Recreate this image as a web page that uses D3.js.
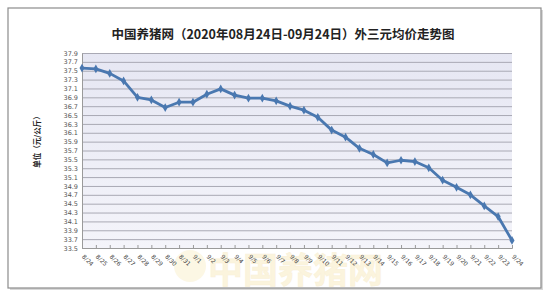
<!DOCTYPE html>
<html>
<head>
<meta charset="utf-8">
<script src="https://cdn.jsdelivr.net/npm/d3@7"></script>
<style>
  body { margin: 0; background: #fff; }
  svg { display: block; font-family: "Noto Sans CJK SC", "DejaVu Sans", sans-serif; }
</style>
</head>
<body>
<div id="chart"></div>
<script>
// dates on the x axis
var dates = ["8/24", "8/25", "8/26", "8/27", "8/28", "8/29", "8/30", "8/31",
    "9/1", "9/2", "9/3", "9/4", "9/5", "9/6", "9/7", "9/8", "9/9", "9/10",
    "9/11", "9/12", "9/13", "9/14", "9/15", "9/16", "9/17", "9/18", "9/19",
    "9/20", "9/21", "9/22", "9/23", "9/24"]
// average price, yuan/kg
var prices = [37.56, 37.54, 37.44, 37.27, 36.90, 36.84, 36.67, 36.79,
    36.79, 36.97, 37.09, 36.95, 36.88, 36.88, 36.82, 36.70, 36.61, 36.45,
    36.16, 36.00, 35.75, 35.61, 35.42, 35.48, 35.45, 35.31, 35.03,
    34.87, 34.70, 34.45, 34.21, 33.67]
var yTicks = [33.5, 33.7, 33.9, 34.1, 34.3, 34.5, 34.7, 34.9, 35.1, 35.3, 35.5,
    35.7, 35.9, 36.1, 36.3, 36.5, 36.7, 36.9, 37.1, 37.3, 37.5, 37.7, 37.9]

var W = 552, H = 294
var margin = { top: 53, right: 40, bottom: 46, left: 82 },
    width = W - margin.left - margin.right,
    height = H - margin.top - margin.bottom

var root = d3.select("#chart").append("svg")
    .attr("width", W)
    .attr("height", H)

var defs = root.append("defs")
var grad = defs.append("linearGradient").attr("id", "bg")
    .attr("x1", 0).attr("y1", 0).attr("x2", 0).attr("y2", 1)
grad.append("stop").attr("offset", "0%").attr("stop-color", "#e6e7f3")
grad.append("stop").attr("offset", "100%").attr("stop-color", "#f4f4fa")

// outer frame with a light shadow
root.append("rect").attr("x", 10).attr("y", 10).attr("width", 533).attr("height", 280)
    .attr("fill", "#d8d8d8")
root.append("rect").attr("x", 8).attr("y", 8).attr("width", 533).attr("height", 280)
    .attr("fill", "#fff").attr("stroke", "#8c8c8c").attr("stroke-width", 1.2)

// faded watermark
var wm = root.append("g").attr("opacity", 0.22)
wm.append("circle").attr("cx", 190).attr("cy", 266).attr("r", 16)
    .attr("fill", "#f3dc8a")
wm.append("text").attr("x", 208).attr("y", 283)
    .attr("font-size", 35).attr("font-weight", "bold")
    .attr("fill", "#f0cf6a")
    .attr("stroke", "#e8c050").attr("stroke-width", 0.6)
    .text("中国养猪网")

root.append("text")
    .attr("x", 283).attr("y", 39)
    .attr("text-anchor", "middle")
    .attr("font-size", 12.5)
    .attr("font-weight", "bold")
    .attr("fill", "#222")
    .text("中国养猪网（2020年08月24日-09月24日）外三元均价走势图")

var svg = root.append("g")
    .attr("transform", "translate(" + margin.left + "," + margin.top + ")")

var x = d3.scalePoint().domain(dates).range([0, width])
var y = d3.scaleLinear().domain([33.5, 37.9]).range([height, 0])

svg.append("rect").attr("width", width).attr("height", height).attr("fill", "url(#bg)")

// horizontal grid
svg.append("g")
    .call(d3.axisLeft(y).tickValues(yTicks).tickSize(-width).tickFormat(""))
    .call(g => g.select(".domain").remove())
    .selectAll("line").attr("stroke", "#a9a9b4").attr("stroke-width", 1)

// y axis labels
var yAxis = svg.append("g")
    .call(d3.axisLeft(y).tickValues(yTicks).tickSize(0).tickPadding(4).tickFormat(d3.format(".1f")))
yAxis.select(".domain").attr("stroke", "#9a9a9a")
yAxis.selectAll("text").attr("font-size", 6.5).attr("fill", "#555")
    .attr("font-family", "DejaVu Sans, sans-serif")

// x axis
var xAxis = svg.append("g")
    .attr("transform", "translate(0," + height + ")")
    .call(d3.axisBottom(x).tickSize(-3).tickPadding(0))
xAxis.select(".domain").attr("stroke", "#9a9a9a")
xAxis.selectAll("line").attr("stroke", "#9a9a9a")
xAxis.selectAll("text")
    .attr("font-size", 6)
    .attr("fill", "#444")
    .attr("font-family", "DejaVu Sans, sans-serif")
    .attr("text-anchor", "start")
    .attr("dy", null)
    .attr("y", 0)
    .attr("transform", "translate(-1,9) rotate(45)")

// y axis title
root.append("text")
    .attr("transform", "translate(40,140) rotate(-90)")
    .attr("text-anchor", "middle")
    .attr("font-size", 7.5)
    .attr("font-weight", "bold")
    .attr("fill", "#222")
    .text("单位（元/公斤）")

var line = d3.line()
    .x(function (d, i) { return x(dates[i]) })
    .y(function (d) { return y(d) })

svg.append("path")
    .datum(prices)
    .attr("fill", "none")
    .attr("stroke", "#4a78b0")
    .attr("stroke-width", 2.8)
    .attr("stroke-linejoin", "round")
    .attr("d", line)

svg.selectAll(".pt")
    .data(prices)
    .enter()
    .append("path")
    .attr("class", "pt")
    .attr("d", d3.symbol().type(d3.symbolDiamond).size(22))
    .attr("transform", function (d, i) { return "translate(" + x(dates[i]) + "," + y(d) + ")" })
    .attr("fill", "#4a78b0")
</script>
</body>
</html>
